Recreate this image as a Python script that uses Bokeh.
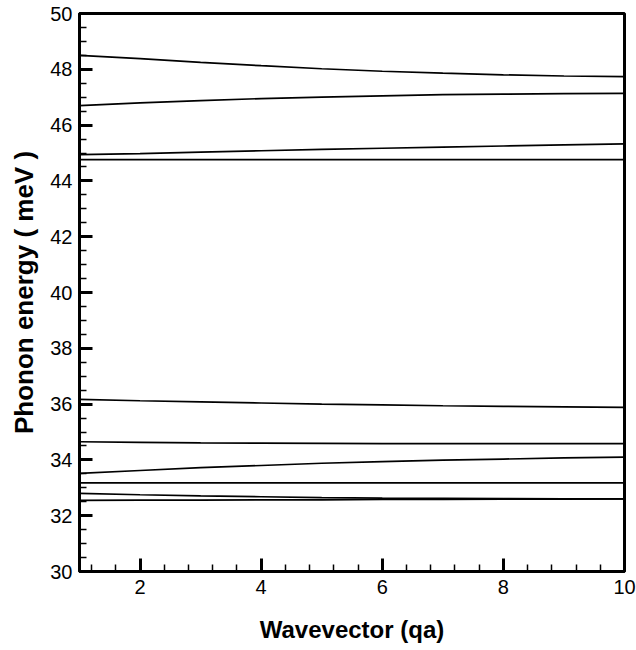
from bokeh.plotting import figure
from bokeh.models import Range1d, FixedTicker
from bokeh.embed import file_html
from bokeh.resources import INLINE

# Wavevector samples (qa) and phonon branch energies (meV)
qa = [1, 2, 3, 4, 5, 6, 7, 8, 9, 10]

branch_1 = [48.50, 48.38, 48.25, 48.13, 48.02, 47.93, 47.86, 47.80, 47.76, 47.74]
branch_2 = [46.70, 46.80, 46.88, 46.95, 47.00, 47.05, 47.09, 47.11, 47.13, 47.14]
branch_3 = [44.94, 44.98, 45.03, 45.08, 45.13, 45.17, 45.21, 45.25, 45.29, 45.33]
branch_4 = [44.76, 44.76, 44.76, 44.76, 44.76, 44.76, 44.76, 44.76, 44.76, 44.76]
branch_5 = [36.17, 36.12, 36.08, 36.04, 36.00, 35.97, 35.94, 35.92, 35.90, 35.88]
branch_6 = [34.65, 34.63, 34.61, 34.60, 34.59, 34.58, 34.58, 34.58, 34.58, 34.58]
branch_7 = [33.52, 33.62, 33.72, 33.80, 33.88, 33.94, 33.99, 34.03, 34.07, 34.10]
branch_8 = [33.18, 33.18, 33.18, 33.18, 33.18, 33.18, 33.18, 33.18, 33.18, 33.18]
branch_9 = [32.80, 32.75, 32.71, 32.68, 32.65, 32.63, 32.62, 32.61, 32.60, 32.60]
branch_10 = [32.55, 32.56, 32.56, 32.57, 32.57, 32.58, 32.58, 32.59, 32.59, 32.60]

branches = [branch_1, branch_2, branch_3, branch_4, branch_5,
            branch_6, branch_7, branch_8, branch_9, branch_10]

x_major = [2, 4, 6, 8, 10]
x_minor = [round(1.2 + 0.4 * i, 1) for i in range(23)]
y_major = list(range(30, 51, 2))
y_minor = [30 + 0.5 * i for i in range(41)]

FONT = "Liberation Sans"

p = figure(width=636, height=650, output_backend="svg", toolbar_location=None,
           x_range=Range1d(1, 10), y_range=Range1d(30, 50),
           min_border_left=79, min_border_right=12,
           min_border_top=13, min_border_bottom=79)

for b in branches:
    p.line(qa, b, line_color="black", line_width=1.7)

p.xgrid.visible = False
p.ygrid.visible = False
p.outline_line_color = "black"
p.outline_line_width = 3
p.background_fill_color = "white"
p.border_fill_color = "white"

p.xaxis.ticker = FixedTicker(ticks=x_major, minor_ticks=x_minor)
p.yaxis.ticker = FixedTicker(ticks=y_major, minor_ticks=y_minor)

for ax in (p.xaxis[0], p.yaxis[0]):
    ax.axis_line_width = 3
    ax.axis_line_color = "black"
    ax.major_tick_in = 13
    ax.major_tick_out = 0
    ax.minor_tick_in = 7
    ax.minor_tick_out = 0
    ax.major_tick_line_width = 3
    ax.minor_tick_line_width = 1.5
    ax.major_tick_line_color = "black"
    ax.minor_tick_line_color = "black"
    ax.major_label_text_font = FONT
    ax.major_label_text_font_size = "20px"
    ax.major_label_text_color = "black"
    ax.axis_label_text_font = FONT
    ax.axis_label_text_font_style = "bold"
    ax.axis_label_text_color = "black"

p.xaxis.axis_label = "Wavevector (qa)"
p.xaxis.axis_label_text_font_size = "24px"
p.xaxis.major_label_standoff = 8
p.xaxis.axis_label_standoff = 19

p.yaxis.axis_label = "Phonon energy ( meV )"
p.yaxis.axis_label_text_font_size = "26px"
p.yaxis.major_label_standoff = 7
p.yaxis.axis_label_standoff = 8

open("out.html", "w").write(file_html(p, INLINE))
